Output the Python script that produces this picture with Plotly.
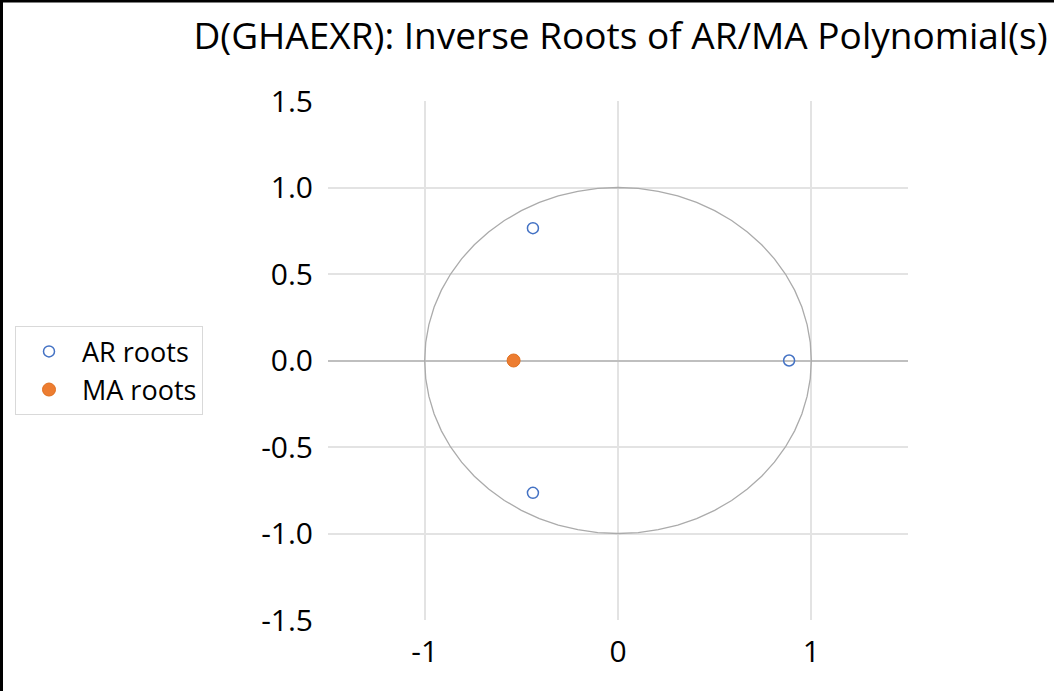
import numpy as np
import plotly.graph_objects as go

title = "D(GHAEXR): Inverse Roots of AR/MA Polynomial(s)"

# inverse roots
ar_real = [-0.44, -0.44, 0.885]
ar_imag = [0.765, -0.765, 0.0]
ma_real = [-0.54]
ma_imag = [0.0]

x_ticks = [-1, 0, 1]
y_ticks = [-1.5, -1.0, -0.5, 0.0, 0.5, 1.0, 1.5]
y_tick_text = ["-1.5", "-1.0", "-0.5", "0.0", "0.5", "1.0", "1.5"]

# unit circle reference
unit_radius = 1.0
theta = np.linspace(0, 2 * np.pi, 61)
circle_x = unit_radius * np.cos(theta)
circle_y = unit_radius * np.sin(theta)

W, H = 1054, 691
ml, mr, mt, mb = 328, 146, 101, 71
pw, ph = W - ml - mr, H - mt - mb

font = "Open Sans, Noto Sans, sans-serif"

fig = go.Figure()
fig.add_trace(go.Scatter(x=circle_x, y=circle_y, mode="lines",
                         line=dict(color="#ABABAB", width=1.3),
                         showlegend=False, hoverinfo="skip"))
fig.add_trace(go.Scatter(x=ar_real, y=ar_imag, mode="markers", name="AR roots",
                         marker=dict(symbol="circle-open", size=11, color="#4472C4",
                                     line=dict(width=1.5, color="#4472C4"))))
fig.add_trace(go.Scatter(x=ma_real, y=ma_imag, mode="markers", name="MA roots",
                         marker=dict(symbol="circle", size=13, color="#ED7D31",
                                     line=dict(width=1, color="#E07020"))))

# dashed vertical zero line
fig.add_shape(type="line", xref="x", yref="paper", x0=0, x1=0, y0=0, y1=1,
              line=dict(color="#D3D3D3", width=1.5, dash="dash"), layer="below")

# frame edges visible on left and top of the picture
fig.add_shape(type="line", xref="paper", yref="paper",
              x0=-ml / pw, x1=-ml / pw, y0=-mb / ph, y1=1 + mt / ph,
              line=dict(color="black", width=6))
fig.add_shape(type="line", xref="paper", yref="paper",
              x0=-ml / pw, x1=1 + mr / pw, y0=1 + mt / ph, y1=1 + mt / ph,
              line=dict(color="black", width=5))

fig.update_layout(
    width=W, height=H,
    margin=dict(l=ml, r=mr, t=mt, b=mb),
    paper_bgcolor="white", plot_bgcolor="white",
    font=dict(family=font, color="black"),
    title=dict(text=title, x=0.994, xanchor="right", y=1 - 36 / H, yanchor="middle",
               font=dict(size=37, color="black", family=font)),
    legend=dict(x=-(ml - 15) / pw, y=0.48, xanchor="left", yanchor="middle",
                bordercolor="#D9D9D9", borderwidth=1, bgcolor="white",
                font=dict(size=27), itemwidth=56),
    xaxis=dict(range=[-1.5, 1.5], tickvals=x_ticks, ticktext=[str(v) for v in x_ticks],
               showgrid=True, gridcolor="#E3E3E3", gridwidth=1.5, zeroline=False,
               showline=False, ticks="", tickfont=dict(size=30), ticklabelstandoff=11),
    yaxis=dict(range=[-1.5, 1.5], tickvals=y_ticks, ticktext=y_tick_text,
               showgrid=True, gridcolor="#E3E3E3", gridwidth=1.5,
               zeroline=True, zerolinecolor="#BFBFBF", zerolinewidth=1.5,
               showline=False, ticks="", tickfont=dict(size=30), ticklabelstandoff=14),
)

fig.write_html("out.html", config={"displayModeBar": False},
               post_script="document.body.style.margin='0';")
